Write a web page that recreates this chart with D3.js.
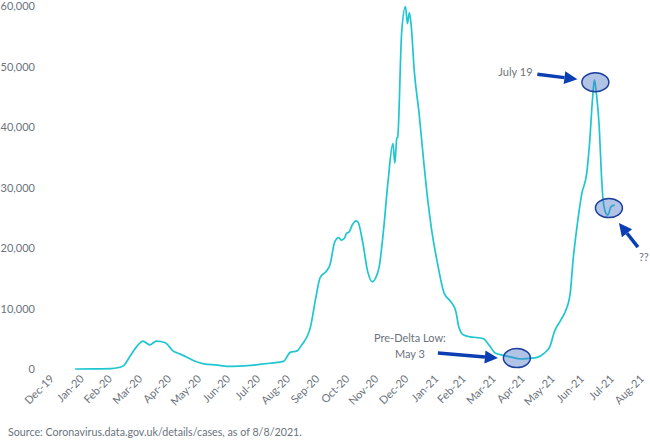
<!DOCTYPE html>
<html>
<head>
<meta charset="utf-8">
<script src="https://cdn.jsdelivr.net/npm/d3@7"></script>
<style>
  body { margin: 0; background: #fff; }
  svg { font-family: Lato, "Open Sans", sans-serif; }
</style>
</head>
<body>
<svg id="chart" width="650" height="440"></svg>
<script>
// daily UK cases, 7-day average
const dates = [
  "2020-01-28","2020-02-15","2020-03-05","2020-03-12","2020-03-18","2020-03-25",
  "2020-04-02","2020-04-07","2020-04-14","2020-04-21","2020-04-30","2020-05-08",
  "2020-05-15","2020-05-22","2020-05-29","2020-06-09","2020-06-23","2020-07-03",
  "2020-07-15","2020-07-24","2020-08-05","2020-08-16","2020-08-30","2020-09-06",
  "2020-09-13","2020-09-18","2020-09-27","2020-10-02","2020-10-07","2020-10-13",
  "2020-10-17","2020-10-22","2020-10-26","2020-10-29","2020-11-01","2020-11-03",
  "2020-11-06","2020-11-09","2020-11-13","2020-11-15","2020-11-20","2020-11-25",
  "2020-11-30","2020-12-03","2020-12-07","2020-12-11","2020-12-16","2020-12-21",
  "2020-12-23","2020-12-25","2020-12-26","2020-12-30","2021-01-03","2021-01-05",
  "2021-01-07","2021-01-09","2021-01-12","2021-01-17","2021-01-22","2021-01-26",
  "2021-01-30","2021-02-05","2021-02-12","2021-02-19","2021-02-24","2021-02-27",
  "2021-03-04","2021-03-11","2021-03-18","2021-03-25","2021-03-30","2021-04-06",
  "2021-04-13","2021-04-21","2021-05-02","2021-05-10","2021-05-19","2021-05-26",
  "2021-06-01","2021-06-06","2021-06-12","2021-06-17","2021-06-22","2021-06-25",
  "2021-06-29","2021-07-04","2021-07-09","2021-07-12","2021-07-15","2021-07-17",
  "2021-07-19","2021-07-22","2021-07-24","2021-07-26","2021-07-29","2021-07-31",
  "2021-08-03","2021-08-07"
];
const cases = [
  0, 20, 60, 200, 550, 2200,
  4000, 4600, 4000, 4600, 4350, 3000,
  2500, 2000, 1400, 850, 650, 450,
  480, 550, 750, 950, 1250, 2750,
  3000, 4000, 7000, 11400, 15150, 16100,
  17200, 21000, 21700, 21300, 21600, 22400,
  22700, 23800, 24500, 24300, 20800, 16100,
  14400, 15000, 17000, 22400, 31000, 37300,
  34000, 38100, 38400, 55500, 59900, 57100,
  58900, 56600, 49400, 42300, 34000, 27900,
  23000, 17500, 12500, 11100, 9500, 7000,
  5600, 5300, 5200, 4950, 4000, 2600,
  2300, 2000, 1650, 1770, 1930, 2600,
  3700, 6300, 8000, 9500, 12500, 18000,
  23500, 29000, 32300, 37300, 44500, 47800,
  45600, 40000, 32900, 27900, 25700, 25450,
  26800, 27100
];

const monthLabels = ["Dec-19","Jan-20","Feb-20","Mar-20","Apr-20","May-20","Jun-20",
  "Jul-20","Aug-20","Sep-20","Oct-20","Nov-20","Dec-20","Jan-21","Feb-21","Mar-21",
  "Apr-21","May-21","Jun-21","Jul-21","Aug-21"];
const yTicks = [0, 10000, 20000, 30000, 40000, 50000, 60000];

// annotations: date and value of the circled points
const noteDates = ["2021-04-28", "2021-07-18", "2021-08-01"];
const noteValues = [1800, 47400, 26600];

const parseDay = d3.timeParse("%Y-%m-%d");
const parseMonth = d3.timeParse("%b-%y");
const data = dates.map((d, i) => ({date: parseDay(d), value: cases[i]}));
// Excel puts the month labels on the last day of each month
const tickDates = monthLabels.map(m => d3.timeDay.offset(d3.timeMonth.offset(parseMonth(m), 1), -1));

const svg = d3.select("#chart");
const grey = "#6b737c";

const x = d3.scaleTime()
  .domain([tickDates[0], tickDates[tickDates.length - 1]])
  .range([48, 638]);
const y = d3.scaleLinear()
  .domain([0, 60000])
  .range([369, 6]);

// y axis
const yAxis = svg.append("g")
  .attr("transform", "translate(35,0)")
  .call(d3.axisLeft(y).tickValues(yTicks).tickSize(0).tickPadding(0).tickFormat(d3.format(",")));
yAxis.select(".domain").remove();
yAxis.selectAll("text")
  .attr("fill", grey)
  .style("font-size", "11px")
  .style("font-family", "Lato, sans-serif");

// x axis
const xAxis = svg.append("g")
  .attr("transform", "translate(0,369)")
  .call(d3.axisBottom(x).tickValues(tickDates).tickSize(0)
    .tickFormat((d, i) => monthLabels[i]));
xAxis.select(".domain").remove();
xAxis.selectAll("text")
  .attr("fill", grey)
  .style("font-size", "11px")
  .style("font-family", "Lato, sans-serif")
  .attr("text-anchor", "end")
  .attr("x", -3)
  .attr("y", 8)
  .attr("dy", "0.35em")
  .attr("transform", "rotate(-45)");

// the line
const line = d3.line()
  .x(d => x(d.date))
  .y(d => y(d.value))
  .curve(d3.curveMonotoneX);

svg.append("path")
  .datum(data)
  .attr("fill", "none")
  .attr("stroke", "#1fc6d0")
  .attr("stroke-width", 1.7)
  .attr("d", line);

// circled points
const notes = noteDates.map((d, i) => ({cx: x(parseDay(d)), cy: y(noteValues[i])}));
svg.append("g").selectAll("ellipse")
  .data(notes)
  .join("ellipse")
  .attr("cx", d => d.cx)
  .attr("cy", d => d.cy)
  .attr("rx", 13.5)
  .attr("ry", 9.5)
  .attr("fill", "rgba(68,114,196,0.42)")
  .attr("stroke", "#1c3f9e")
  .attr("stroke-width", 1.5);

// block arrows
const arrowCol = "#0b3db3";
function arrow(x1, y1, x2, y2) {
  const len = Math.hypot(x2 - x1, y2 - y1);
  const ux = (x2 - x1) / len, uy = (y2 - y1) / len;
  const head = 13, hw = 6.5;
  const bx = x2 - ux * head, by = y2 - uy * head;
  svg.append("line")
    .attr("x1", x1).attr("y1", y1).attr("x2", bx).attr("y2", by)
    .attr("stroke", arrowCol).attr("stroke-width", 3.5);
  svg.append("path")
    .attr("d", `M${x2},${y2}L${bx - uy * hw},${by + ux * hw}L${bx + uy * hw},${by - ux * hw}Z`)
    .attr("fill", arrowCol);
}
arrow(notes[0].cx - 79, notes[0].cy - 5, notes[0].cx - 19, notes[0].cy);
arrow(notes[1].cx - 58, notes[1].cy - 8, notes[1].cx - 18, notes[1].cy - 3);
arrow(notes[2].cx + 29, notes[2].cy + 39, notes[2].cx + 10, notes[2].cy + 15);

// annotation text
const note = (tx, ty, s, anchor) => svg.append("text")
  .attr("x", tx).attr("y", ty)
  .attr("text-anchor", anchor || "start")
  .attr("fill", grey)
  .style("font-size", "11px")
  .text(s);
note(notes[0].cx - 107, notes[0].cy - 16, "Pre-Delta Low:", "middle");
note(notes[0].cx - 107, notes[0].cy, "May 3", "middle");
note(notes[1].cx - 97, notes[1].cy - 6, "July 19", "start");
note(notes[2].cx + 30, notes[2].cy + 53, "??", "start");

svg.append("text")
  .attr("x", 8).attr("y", 436)
  .attr("fill", grey)
  .style("font-size", "10.7px")
  .text("Source:  Coronavirus.data.gov.uk/details/cases, as of 8/8/2021.");
</script>
</body>
</html>
